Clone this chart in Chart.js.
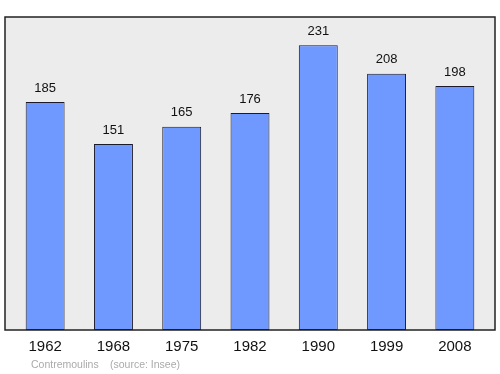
<!DOCTYPE html>
<html>
<head>
<meta charset="utf-8">
<script src="https://cdn.jsdelivr.net/npm/chart.js@4"></script>
<style>
  html, body { margin: 0; padding: 0; background: #ffffff; }
  #wrap { width: 500px; height: 374px; }
</style>
</head>
<body>
<div id="wrap"><canvas id="chart" width="500" height="374"></canvas></div>
<script>
// data
var years = ['1962', '1968', '1975', '1982', '1990', '1999', '2008'];
var population = [185, 151, 165, 176, 231, 208, 198];
var yMax = 254;

// grey frame behind the bars, plus labels
var framePlugin = {
    id: 'frame',
    beforeDatasetsDraw: function (chart) {
        var ctx = chart.ctx;
        var a = chart.chartArea;
        ctx.save();
        ctx.fillStyle = '#ececec';
        ctx.fillRect(5, a.top, 490, a.bottom - a.top);
        ctx.restore();
    },
    afterDatasetsDraw: function (chart) {
        var ctx = chart.ctx;
        var a = chart.chartArea;
        var xs = chart.scales.x;
        var ys = chart.scales.y;
        ctx.save();
        ctx.strokeStyle = '#222222';
        ctx.lineWidth = 1.5;
        ctx.strokeRect(5, a.top, 490, a.bottom - a.top);

        ctx.fillStyle = '#111111';
        ctx.textAlign = 'center';
        ctx.textBaseline = 'middle';
        ctx.font = '13px "Liberation Sans", Arial, sans-serif';
        population.forEach(function (v, i) {
            ctx.fillText(String(v), xs.getPixelForValue(i), ys.getPixelForValue(v) - 14);
        });

        ctx.font = '15px "Liberation Sans", Arial, sans-serif';
        years.forEach(function (y, i) {
            ctx.fillText(y, xs.getPixelForValue(i), a.bottom + 17);
        });

        ctx.fillStyle = '#aaaaaa';
        ctx.textAlign = 'left';
        ctx.font = '10.5px "Liberation Sans", Arial, sans-serif';
        ctx.fillText('Contremoulins', 31, 365);
        ctx.fillText('(source: Insee)', 110, 365);
        ctx.restore();
    }
};

var ctx = document.getElementById('chart').getContext('2d');
var myChart = new Chart(ctx, {
    type: 'bar',
    data: {
        labels: years,
        datasets: [{
            data: population,
            backgroundColor: '#7099ff',
            borderColor: '#1a1a2a',
            borderWidth: 1,
            borderSkipped: false,
            barPercentage: 0.57,
            categoryPercentage: 1
        }]
    },
    options: {
        responsive: false,
        animation: false,
        layout: { padding: { left: 11, right: 11, top: 17, bottom: 44 } },
        plugins: { legend: { display: false }, tooltip: { enabled: false } },
        scales: {
            x: { display: false, offset: true },
            y: { display: false, min: 0, max: yMax }
        }
    },
    plugins: [framePlugin]
});
</script>
</body>
</html>
